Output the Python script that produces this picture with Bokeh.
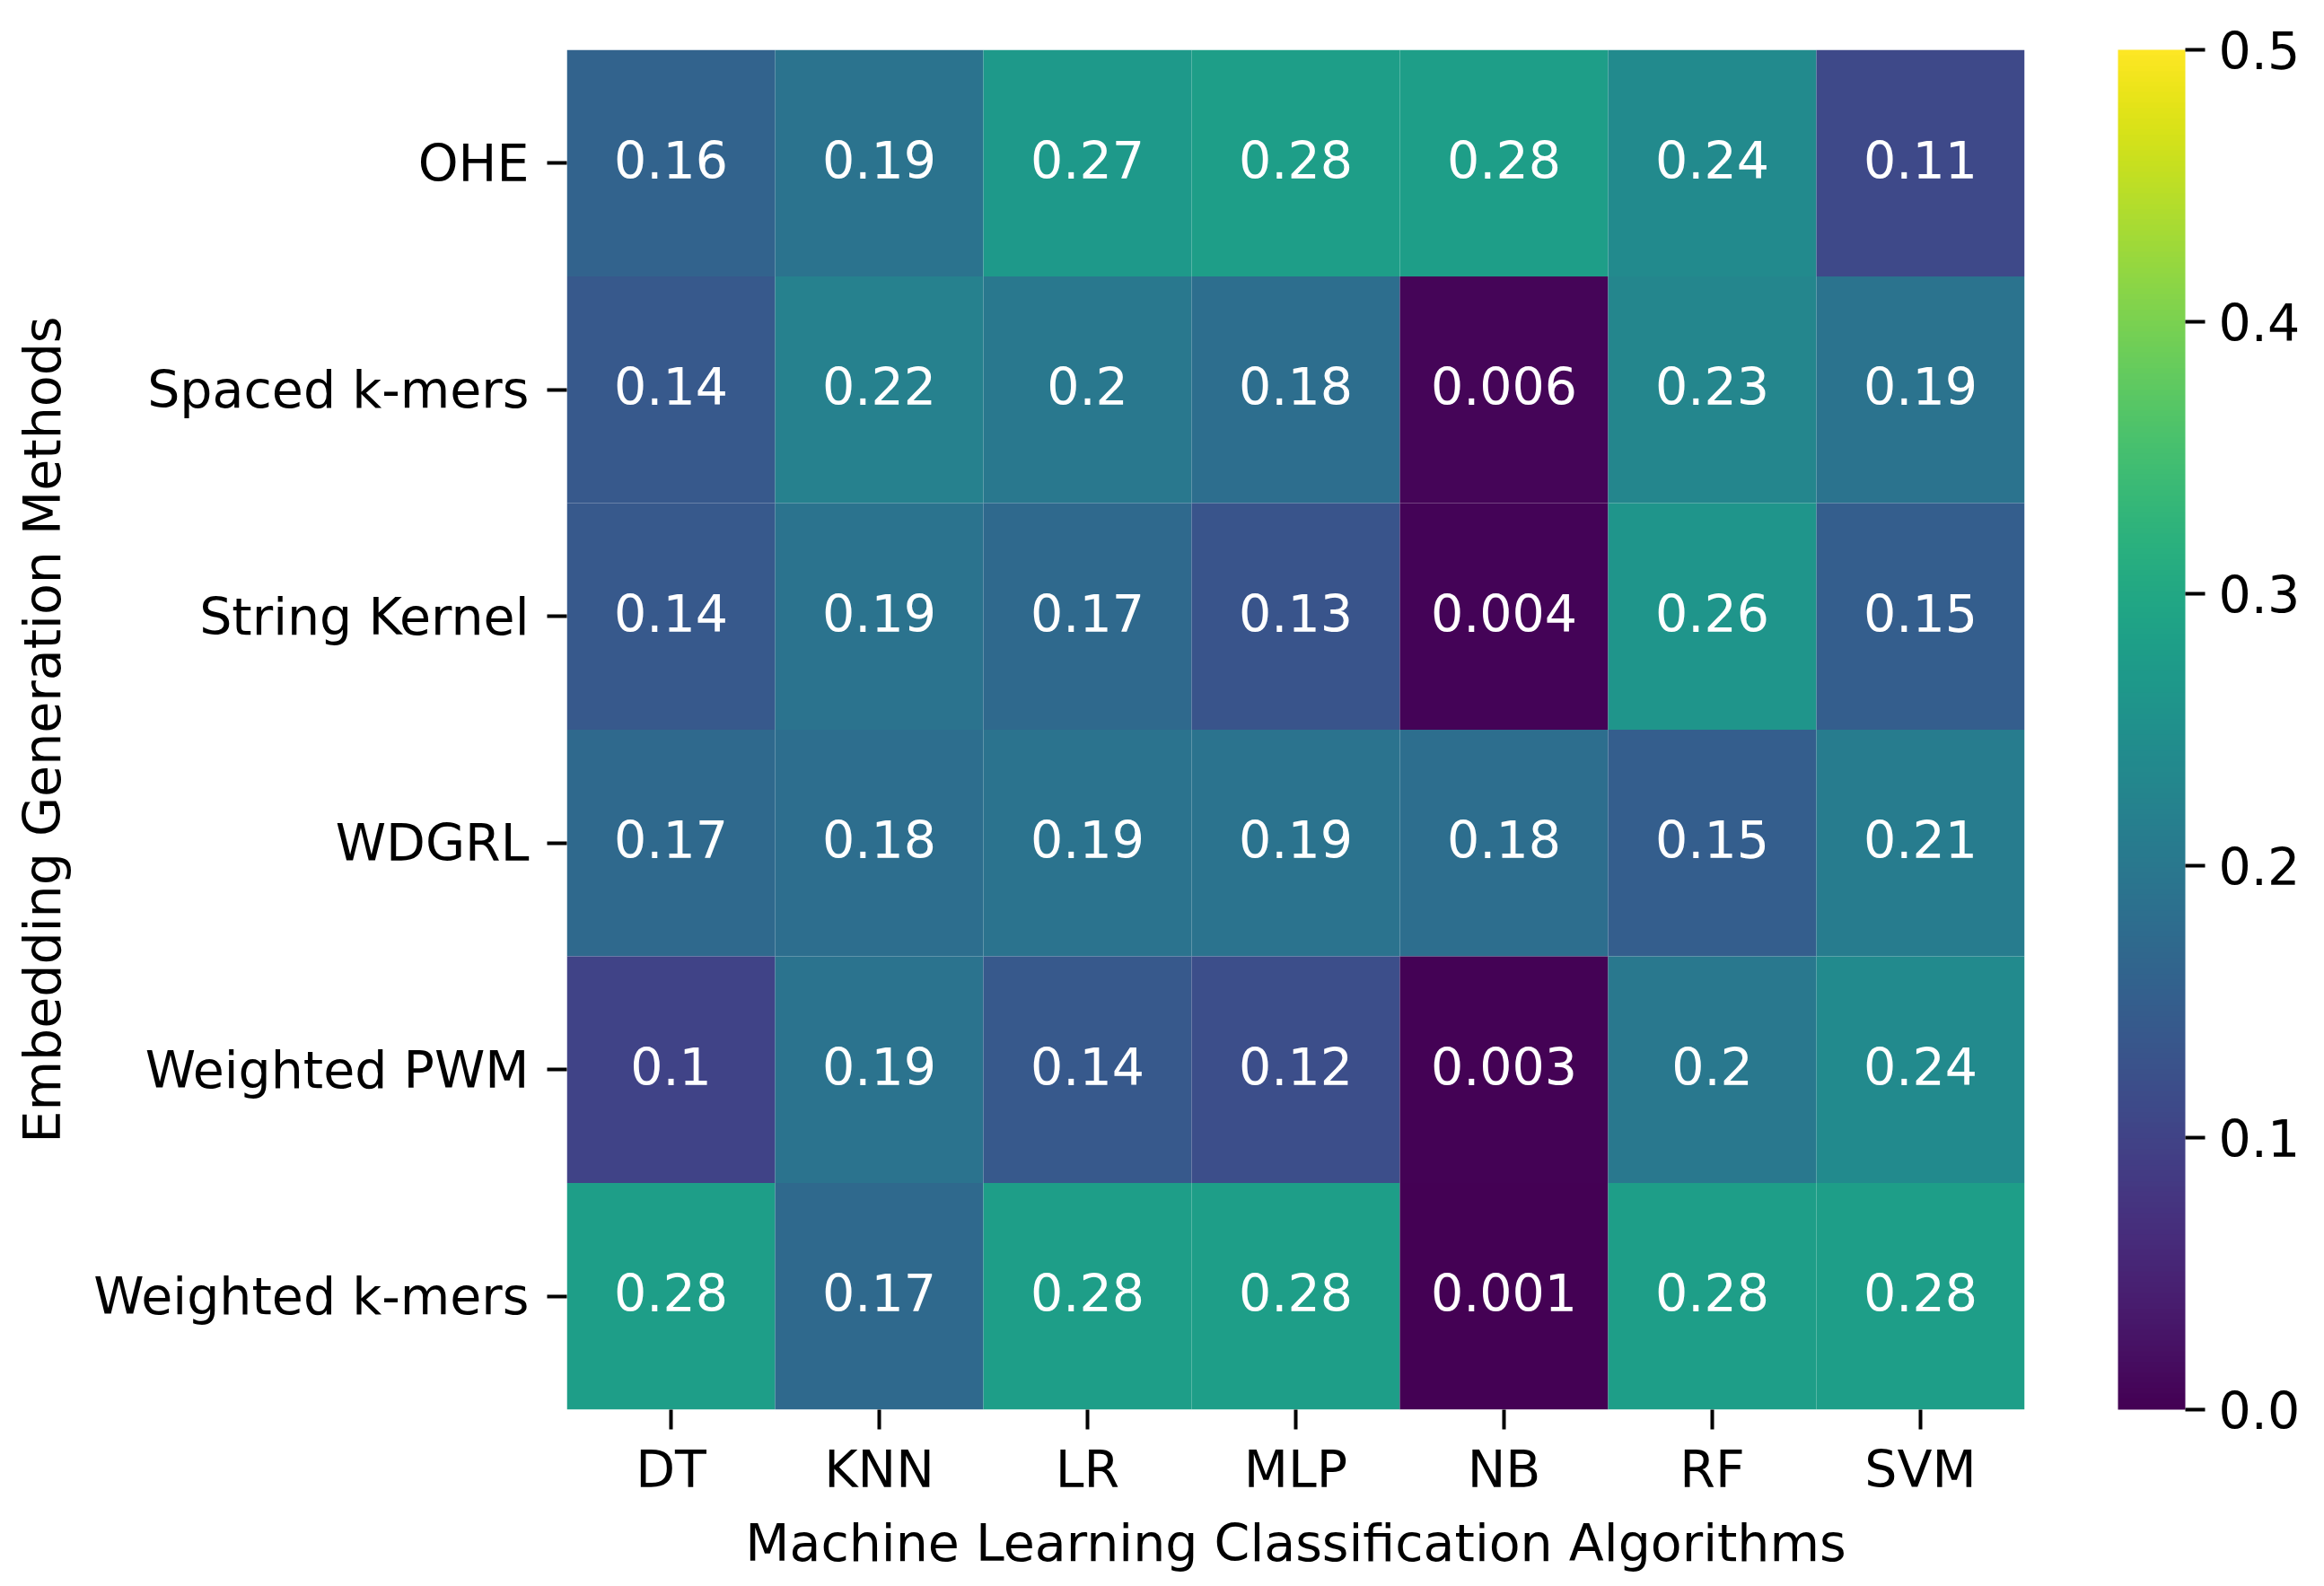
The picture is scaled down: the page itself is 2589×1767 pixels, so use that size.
from bokeh.plotting import figure
from bokeh.models import (ColumnDataSource, LinearColorMapper, ColorBar, FixedTicker,
                          PrintfTickFormatter, FactorRange)
from bokeh.palettes import Viridis256
from bokeh.transform import transform
from bokeh.embed import file_html
from bokeh.resources import INLINE
from bokeh.core.properties import value

# ---- data ----
algorithms = ["DT", "KNN", "LR", "MLP", "NB", "RF", "SVM"]
methods = ["OHE", "Spaced k-mers", "String Kernel", "WDGRL", "Weighted PWM", "Weighted k-mers"]

ohe = [0.16, 0.19, 0.27, 0.28, 0.28, 0.24, 0.11]
spaced_kmers = [0.14, 0.22, 0.2, 0.18, 0.006, 0.23, 0.19]
string_kernel = [0.14, 0.19, 0.17, 0.13, 0.004, 0.26, 0.15]
wdgrl = [0.17, 0.18, 0.19, 0.19, 0.18, 0.15, 0.21]
weighted_pwm = [0.1, 0.19, 0.14, 0.12, 0.003, 0.2, 0.24]
weighted_kmers = [0.28, 0.17, 0.28, 0.28, 0.001, 0.28, 0.28]

colorbar_ticks = [0.0, 0.1, 0.2, 0.3, 0.4, 0.5]
color_low, color_high = 0.0, 0.5

rows = [ohe, spaced_kmers, string_kernel, wdgrl, weighted_pwm, weighted_kmers]

xs, ys, vals, labels = [], [], [], []
for m, row in zip(methods, rows):
    for a, v in zip(algorithms, row):
        xs.append(a)
        ys.append(m)
        vals.append(v)
        labels.append(format(v, ".2g"))
src = ColumnDataSource(dict(x=xs, y=ys, v=vals, label=labels))

FONT = "DejaVu Sans"
FS = "57px"

mapper = LinearColorMapper(palette=Viridis256, low=color_low, high=color_high)

p = figure(x_range=FactorRange(*algorithms), y_range=FactorRange(*reversed(methods)),
           width=2581, height=1759, output_backend="svg", toolbar_location=None,
           min_border_left=631, min_border_top=55, min_border_right=326, min_border_bottom=189)
p.outline_line_color = None
p.grid.visible = False
p.background_fill_color = "white"

p.rect(x="x", y="y", width=1, height=1, source=src,
       fill_color=transform("v", mapper), line_color=None)
p.text(x="x", y="y", text="label", source=src, text_align="center", text_baseline="middle",
       y_offset=-4, text_color="white", text_font=value(FONT), text_font_size=FS)

for ax in (p.xaxis[0], p.yaxis[0]):
    ax.axis_line_color = None
    ax.major_tick_line_color = "black"
    ax.major_tick_line_width = 4
    ax.major_tick_out = 22
    ax.major_tick_in = 0
    ax.minor_tick_line_color = None
    ax.major_label_text_font = FONT
    ax.major_label_text_font_size = FS
    ax.major_label_text_color = "black"
    ax.axis_label_text_font = FONT
    ax.axis_label_text_font_size = FS
    ax.axis_label_text_font_style = "normal"
    ax.axis_label_text_color = "black"

p.xaxis.axis_label = "Machine Learning Classification Algorithms"
p.yaxis.axis_label = "Embedding Generation Methods"
p.xaxis.major_label_standoff = 11
p.xaxis.axis_label_standoff = 13
p.yaxis.major_label_standoff = 20
p.yaxis.axis_label_standoff = 21

cb = ColorBar(color_mapper=mapper, width=75, height=1515, padding=0, margin=0,
              location=(104, 0),
              ticker=FixedTicker(ticks=colorbar_ticks),
              formatter=PrintfTickFormatter(format="%.1f"),
              major_tick_out=22, major_tick_in=0, major_tick_line_color="black",
              major_tick_line_width=4, minor_tick_line_color=None,
              bar_line_color=None, border_line_color=None, background_fill_color=None,
              label_standoff=15, major_label_text_font=FONT,
              major_label_text_font_size=FS, major_label_text_color="black")
p.add_layout(cb, "right")

open("out.html", "w").write(file_html(p, INLINE))
